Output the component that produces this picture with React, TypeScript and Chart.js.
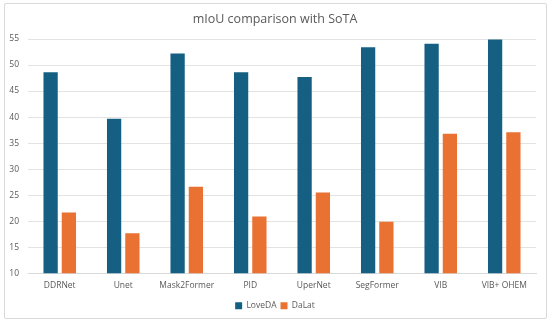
import React, { useEffect, useRef } from "react";
import { Chart, registerables } from "chart.js";

Chart.register(...registerables);

const categories = ["DDRNet", "Unet", "Mask2Former", "PID", "UperNet", "SegFormer", "VIB", "VIB+ OHEM"];
const loveDA = [48.6, 39.7, 52.2, 48.6, 47.7, 53.4, 54.1, 54.9];
const daLat = [21.7, 17.7, 26.6, 20.9, 25.5, 19.9, 36.8, 37.1];
const yTicks = [10, 15, 20, 25, 30, 35, 40, 45, 50, 55];

const FONT = "'Open Sans', 'Noto Sans', sans-serif";

export default function App() {
  const ref = useRef<HTMLCanvasElement>(null);
  useEffect(() => {
    document.body.style.margin = "0";
    const chart = new Chart(ref.current!, {
      type: "bar",
      data: {
        labels: categories,
        datasets: [
          { label: "LoveDA", data: loveDA, backgroundColor: "#156082", categoryPercentage: 0.576, barPercentage: 0.78 },
          { label: "DaLat", data: daLat, backgroundColor: "#E97132", categoryPercentage: 0.576, barPercentage: 0.78 },
        ],
      },
      options: {
        animation: false,
        responsive: false,
        maintainAspectRatio: false,
        layout: { padding: { left: 0, right: 0, top: 12, bottom: 2 } },
        plugins: {
          title: {
            display: true,
            text: "mIoU comparison with SoTA",
            color: "#595959",
            font: { family: FONT, size: 12.5, weight: "normal" },
            padding: { top: 0, bottom: 12 },
          },
          legend: {
            position: "bottom",
            labels: {
              boxWidth: 7,
              boxHeight: 7,
              padding: 4,
              color: "#595959",
              font: { family: FONT, size: 8.5 },
            },
          },
          tooltip: { enabled: false },
        },
        scales: {
          x: {
            grid: { display: false, drawTicks: false },
            border: { display: true, color: "#d9d9d9" },
            ticks: { color: "#595959", font: { family: FONT, size: 8.5 }, padding: 7, maxRotation: 0, autoSkip: false },
          },
          y: {
            min: 10,
            max: 55,
            afterFit: (s: any) => { s.width = 28; },
            afterBuildTicks: (s: any) => { s.ticks = yTicks.map((v) => ({ value: v })); },
            grid: { color: "#e3e3e3", drawTicks: false },
            border: { display: false },
            ticks: { color: "#595959", font: { family: FONT, size: 8.5 }, padding: 9 },
          },
          yRight: {
            position: "right",
            min: 10,
            max: 55,
            afterFit: (s: any) => { s.width = 14; },
            grid: { display: false, drawTicks: false },
            border: { display: false },
            ticks: { display: false },
          },
        },
      },
    });
    return () => chart.destroy();
  }, []);
  return (
    <div style={{ position: "absolute", left: 0, top: 0, width: 550, height: 322, background: "#fff" }}>
      <div style={{ position: "absolute", left: 4, top: 3, width: 541, height: 314, border: "1px solid #d9d9d9", borderRadius: 2 }} />
      <canvas ref={ref} width={550} height={322} style={{ position: "absolute", left: 0, top: 0, width: 550, height: 322 }} />
    </div>
  );
}
